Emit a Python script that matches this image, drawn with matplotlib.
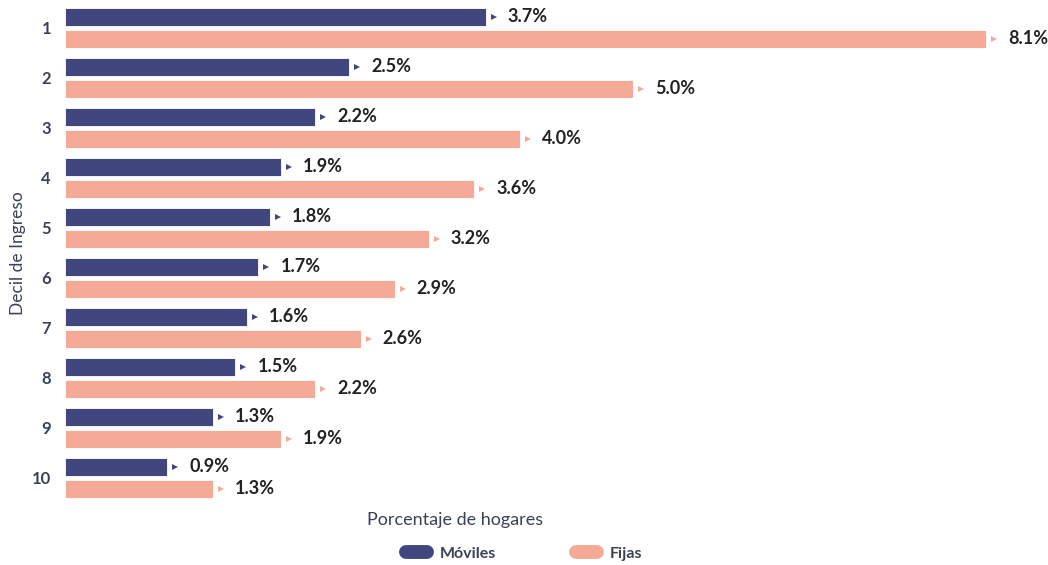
import matplotlib.pyplot as plt
import matplotlib.transforms as mtransforms
from matplotlib.lines import Line2D
import numpy as np

# Datos
deciles = ['1', '2', '3', '4', '5', '6', '7', '8', '9', '10']
moviles = [3.7, 2.5, 2.2, 1.9, 1.8, 1.7, 1.6, 1.5, 1.3, 0.9]
fijas = [8.1, 5.0, 4.0, 3.6, 3.2, 2.9, 2.6, 2.2, 1.9, 1.3]

c_mov = '#42467f'
c_fij = '#f4aa96'
c_txt = '#3a4258'

plt.rcParams['font.family'] = ['Lato', 'DejaVu Sans']

fig = plt.figure(figsize=(10.48, 5.65), dpi=100)
ax = fig.add_axes([0.062, 0.110, 0.922, 0.885])

y = np.arange(len(deciles))
off = 0.22
h = 0.37

ax.barh(y - off, moviles, height=h, color=c_mov, edgecolor='white', linewidth=0.6)
ax.barh(y + off, fijas, height=h, color=c_fij, edgecolor='white', linewidth=0.6)

# etiquetas de valor con triangulito
shift = ax.transData + mtransforms.ScaledTranslation(8 / 100, 0, fig.dpi_scale_trans)
for vals, dy, col in [(moviles, -off, c_mov), (fijas, off, c_fij)]:
    for yi, v in zip(y, vals):
        ax.plot([v], [yi + dy], marker='>', markersize=4.5, color=col,
                markeredgewidth=0, linestyle='none', transform=shift)
        ax.annotate(f'{v:.1f}%', xy=(v, yi + dy), xytext=(16, 0),
                    textcoords='offset points', va='center', ha='left',
                    fontsize=13, fontweight='bold', color='#222222')

ax.set_xlim(0, 8.5)
ax.set_ylim(len(deciles) - 0.5, -0.5)
ax.set_yticks(y)
ax.set_yticklabels(deciles, fontsize=12, fontweight='bold', color=c_txt)
ax.tick_params(axis='y', length=0, pad=10)
ax.set_xticks([])
for s in ax.spines.values():
    s.set_visible(False)

ax.set_ylabel('Decil de Ingreso', fontsize=12.5, color=c_txt, labelpad=4)
fig.text(0.434, 0.080, 'Porcentaje de hogares', ha='center', va='center',
         fontsize=13, color=c_txt)

handles = [Line2D([0], [0], color=c_mov, lw=10, solid_capstyle='round'),
           Line2D([0], [0], color=c_fij, lw=10, solid_capstyle='round')]
fig.legend(handles, ['Móviles', 'Fijas'], loc='center', ncol=2,
           bbox_to_anchor=(0.50, 0.020), frameon=False, handlelength=1.3,
           columnspacing=5.0, handletextpad=0.8,
           prop={'size': 11.5, 'weight': 'bold'}, labelcolor=c_txt)

fig.savefig('out.png', dpi=100)
